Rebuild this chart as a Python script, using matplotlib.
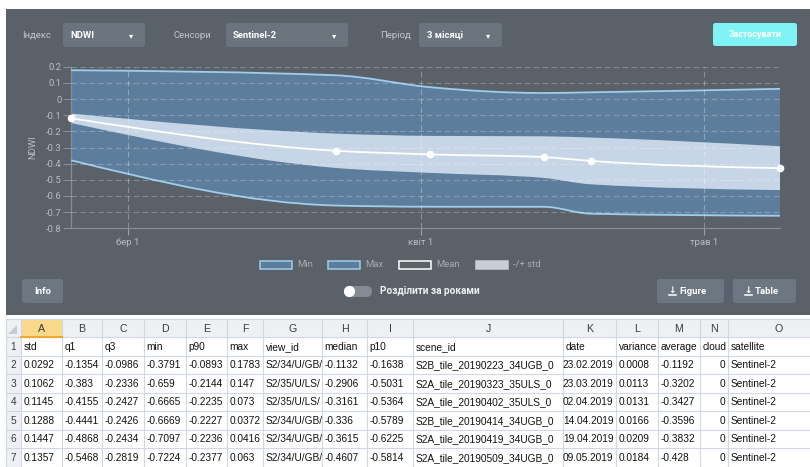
import matplotlib
matplotlib.use("Agg")
import matplotlib.pyplot as plt
import numpy as np
import datetime as dt
import matplotlib.dates as mdates
from matplotlib.patches import Rectangle, FancyBboxPatch, PathPatch, Circle, Polygon
from matplotlib.path import Path

# ---------------- data ----------------
dates = ["23.02.2019", "23.03.2019", "02.04.2019", "14.04.2019", "19.04.2019", "09.05.2019"]
std = [0.0292, 0.1062, 0.1145, 0.1288, 0.1447, 0.1357]
q1 = [-0.1354, -0.383, -0.4155, -0.4441, -0.4868, -0.5468]
q3 = [-0.0986, -0.2336, -0.2427, -0.2426, -0.2434, -0.2819]
mins = [-0.3791, -0.659, -0.6665, -0.6669, -0.7097, -0.7224]
p90 = [-0.0893, -0.2144, -0.2235, -0.2227, -0.2236, -0.2377]
maxs = [0.1783, 0.147, 0.073, 0.0372, 0.0416, 0.063]
view_id = ["S2/34/U/GB/", "S2/35/U/LS/", "S2/35/U/LS/", "S2/34/U/GB/", "S2/34/U/GB/", "S2/34/U/GB/"]
median = [-0.1132, -0.2906, -0.3161, -0.336, -0.3615, -0.4607]
p10 = [-0.1638, -0.5031, -0.5364, -0.5789, -0.6225, -0.5814]
scene_id = ["S2B_tile_20190223_34UGB_0", "S2A_tile_20190323_35ULS_0", "S2A_tile_20190402_35ULS_0",
            "S2B_tile_20190414_34UGB_0", "S2A_tile_20190419_34UGB_0", "S2A_tile_20190509_34UGB_0"]
variance = [0.0008, 0.0113, 0.0131, 0.0166, 0.0209, 0.0184]
average = [-0.1192, -0.3202, -0.3427, -0.3596, -0.3832, -0.428]
cloud = [0, 0, 0, 0, 0, 0]
satellite = ["Sentinel-2"] * 6

y_ticks = [0.2, 0.1, 0, -0.1, -0.2, -0.3, -0.4, -0.5, -0.6, -0.7, -0.8]
y_tick_labels = ["0.2", "0.1", "0", "-0.1", "-0.2", "-0.3", "-0.4", "-0.5", "-0.6", "-0.7", "-0.8"]
month_ticks = ["2019-03-01", "2019-04-01", "2019-05-01"]
month_labels = ["бер 1", "квіт 1", "трав 1"]
legend_labels = ["Min", "Max", "Mean", "-/+ std"]

# ---------------- styles ----------------
W, H = 810, 467
PANEL = "#5b6169"
CTRL = "#6b737c"
BTN = "#6c7782"
BAND = "#5d7d9c"
STDC = "#c7d6e6"
EDGE = "#9fcdec"
TXT = "#b9bdc2"
UI = "Roboto"
TAB = "Liberation Sans"
TFS = 7.25

fig = plt.figure(figsize=(W / 100, H / 100), dpi=100)
fig.patch.set_facecolor("white")
bg = fig.add_axes([0, 0, 1, 1])
bg.set_xlim(0, W)
bg.set_ylim(H, 0)
bg.axis("off")

# panel
bg.add_patch(Rectangle((6, 9), W - 6, 306, facecolor=PANEL, edgecolor="none"))

def rbox(x0, y0, x1, y1, color, r=2.5, z=2):
    bg.add_patch(FancyBboxPatch((x0 + r, y0 + r), x1 - x0 - 2 * r, y1 - y0 - 2 * r,
                                boxstyle=f"round,pad={r}", facecolor=color, edgecolor="none",
                                zorder=z, mutation_aspect=1))

# top controls
bg.text(22, 35, "Індекс", color="#c3c7cb", fontsize=6.8, family=UI, va="center")
rbox(63, 23, 145, 47, CTRL)
bg.text(70, 35, "NDWI", color="white", fontsize=6.8, family=UI, weight="bold", va="center")
bg.text(131, 35.5, "▾", color="white", fontsize=6, family="DejaVu Sans", va="center", ha="center")
bg.text(174, 35, "Сенсори", color="#c3c7cb", fontsize=6.8, family=UI, va="center")
rbox(226, 23, 348, 47, CTRL)
bg.text(233, 35, "Sentinel-2", color="white", fontsize=6.8, family=UI, weight="bold", va="center")
bg.text(334, 35.5, "▾", color="white", fontsize=6, family="DejaVu Sans", va="center", ha="center")
bg.text(380, 35, "Період", color="#c3c7cb", fontsize=6.8, family=UI, va="center")
rbox(419, 23, 502, 47, CTRL)
bg.text(427, 35, "3 місяці", color="white", fontsize=6.8, family=UI, weight="bold", va="center")
bg.text(488, 35.5, "▾", color="white", fontsize=6, family="DejaVu Sans", va="center", ha="center")
rbox(713, 23, 797, 46, "#80f3f6")
bg.text(755, 34.5, "Застосувати", color="white", fontsize=6.5, family=UI, weight="bold",
        va="center", ha="center")

# legend
leg_x = [260, 328, 399, 476]
leg_face = [BAND, BAND, PANEL, "#c9ced4"]
leg_edge = [EDGE, EDGE, "white", "#c9ced4"]
for lx, lab, fc, ec in zip(leg_x, legend_labels, leg_face, leg_edge):
    bg.add_patch(Rectangle((lx, 260.5), 32, 8, facecolor=fc, edgecolor=ec, lw=1.1))
    bg.text(lx + 37, 264.5, lab, color="#a7acb2", fontsize=6.8, family=UI, va="center")

# toggle
bg.add_patch(FancyBboxPatch((344, 286), 28, 11, boxstyle="round,pad=0,rounding_size=5.5",
                            facecolor="#848b93", edgecolor="none", mutation_aspect=1))
bg.add_patch(Circle((349.5, 291.5), 5.6, facecolor="white", edgecolor="none", zorder=3))
bg.text(380, 291.5, "Розділити за роками", color="#eef0f2", fontsize=7.2, family=UI,
        weight="bold", va="center")

# buttons
rbox(22, 279, 63, 303, BTN)
bg.text(42.5, 291, "Info", color="white", fontsize=6.8, family=UI, weight="bold", va="center", ha="center")
for x0, x1, lab in [(657, 724, "Figure"), (733, 796, "Table")]:
    rbox(x0, 279, x1, 303, BTN)
    cx = x0 + 15
    bg.text(cx, 290.3, "↓", color="white", fontsize=6.5, family="DejaVu Sans", weight="bold",
            va="center", ha="center")
    bg.plot([cx - 3.5, cx + 3.5], [294.5, 294.5], color="white", lw=1.1)
    bg.text(cx + 7, 291, lab, color="white", fontsize=6.8, family=UI, weight="bold", va="center")

# ---------------- table ----------------
col_edges = [6, 21, 62, 102, 144, 186, 227, 263, 322, 367, 413, 563, 616, 658, 700, 728, 830]
col_letters = list("ABCDEFGHIJKLMNO")
columns = [("std", std), ("q1", q1), ("q3", q3), ("min", mins), ("p90", p90), ("max", maxs),
           ("view_id", view_id), ("median", median), ("p10", p10), ("scene_id", scene_id),
           ("date", dates), ("variance", variance), ("average", average), ("cloud", cloud),
           ("satellite", satellite)]
right_cols = {"date", "cloud"}
hy0, hy1 = 319, 337
rh = 18.5
n_rows = 7
row_edges = [hy1 + i * rh for i in range(n_rows + 1)]

bg.add_patch(Rectangle((col_edges[0], hy0), W - col_edges[0], hy1 - hy0, facecolor="#eef0f3",
                       edgecolor="none", zorder=1))
bg.add_patch(Rectangle((col_edges[0], hy1), col_edges[1] - col_edges[0], H - hy1,
                       facecolor="#eef0f3", edgecolor="none", zorder=1))
bg.add_patch(Rectangle((col_edges[1], hy0), col_edges[2] - col_edges[1], hy1 - hy0,
                       facecolor="#f9d98a", edgecolor="none", zorder=1.5))
bg.plot([col_edges[1], col_edges[2]], [hy1 - 0.5, hy1 - 0.5], color="#f0a830", lw=1.5, zorder=3)
bg.add_patch(Polygon([[17, 334], [17, 325], [8, 334]], closed=True, facecolor="#c8ccd2",
                     edgecolor="none", zorder=2))
for x in col_edges:
    bg.plot([x, x], [hy0, H], color="#d0d7e5", lw=0.8, zorder=1.6)
for y in [hy0] + row_edges:
    bg.plot([col_edges[0], W], [y, y], color="#d0d7e5", lw=0.8, zorder=1.6)
for i, L in enumerate(col_letters):
    cx = (col_edges[i + 1] + col_edges[i + 2]) / 2
    if cx > W:
        cx = (col_edges[i + 1] + W) / 2 + 12
    bg.text(cx, (hy0 + hy1) / 2 + 0.5, L, color="#3c3c3c", fontsize=TFS + 0.4, family=TAB,
            ha="center", va="center", zorder=4)
for r in range(n_rows):
    cy = row_edges[r] + rh / 2 + 0.5
    bg.text(13.5, cy, str(r + 1), color="#3c3c3c", fontsize=TFS, family=TAB, ha="center",
            va="center", zorder=4)
    for c, (name, vals) in enumerate(columns):
        x0, x1 = col_edges[c + 1], col_edges[c + 2]
        s = name if r == 0 else str(vals[r - 1])
        if name in right_cols and r > 0:
            bg.text(x1 - 2.5, cy, s, color="#111111", fontsize=TFS, family=TAB, ha="right",
                    va="center", zorder=4)
        else:
            t = bg.text(x0 + 2.5, cy, s, color="#111111", fontsize=TFS, family=TAB, ha="left",
                        va="center", zorder=4)
            clip = Rectangle((x0, row_edges[r]), x1 - x0, rh, transform=bg.transData)
            t.set_clip_path(clip)

# ---------------- chart ----------------
xd = mdates.date2num([dt.datetime.strptime(d, "%d.%m.%Y") for d in dates])
x0p, x1p, ytop, ybot = 71, 780, 66.7, 228.3
ax = fig.add_axes([x0p / W, 1 - ybot / H, (x1p - x0p) / W, (ybot - ytop) / H])
ax.set_facecolor("none")
ax.set_xlim(xd[0], xd[-1])
ax.set_ylim(-0.8, 0.2)


def mono_verts(x, y):
    x = np.asarray(x, float)
    y = np.asarray(y, float)
    n = len(x)
    h = np.diff(x)
    s = np.diff(y) / h
    t = np.zeros(n)
    sg = lambda v: -1.0 if v < 0 else 1.0
    for i in range(1, n - 1):
        p = (s[i - 1] * h[i] + s[i] * h[i - 1]) / (h[i - 1] + h[i])
        t[i] = (sg(s[i - 1]) + sg(s[i])) * min(abs(s[i - 1]), abs(s[i]), 0.5 * abs(p))
    t[0] = (3 * s[0] - t[1]) / 2
    t[-1] = (3 * s[-1] - t[-2]) / 2
    v = [(x[0], y[0])]
    for i in range(n - 1):
        d = h[i] / 3
        v += [(x[i] + d, y[i] + d * t[i]), (x[i + 1] - d, y[i + 1] - d * t[i + 1]), (x[i + 1], y[i + 1])]
    return v


def curve_path(x, y):
    v = mono_verts(x, y)
    return Path(v, [Path.MOVETO] + [Path.CURVE4] * (len(v) - 1))


def band_path(x, ylo, yhi):
    up = mono_verts(x, yhi)
    lo = mono_verts(x, ylo)[::-1]
    v = up + lo + [up[0]]
    codes = ([Path.MOVETO] + [Path.CURVE4] * (len(up) - 1) + [Path.LINETO] +
             [Path.CURVE4] * (len(lo) - 1) + [Path.CLOSEPOLY])
    return Path(v, codes)


avg = np.array(average)
sd = np.array(std)
ax.add_patch(PathPatch(band_path(xd, mins, maxs), facecolor=BAND, edgecolor="none", zorder=1))
ax.add_patch(PathPatch(band_path(xd, avg - sd, avg + sd), facecolor=STDC, edgecolor="none", zorder=2))
ax.add_patch(PathPatch(curve_path(xd, maxs), facecolor="none", edgecolor=EDGE, lw=1.3, zorder=3))
ax.add_patch(PathPatch(curve_path(xd, mins), facecolor="none", edgecolor=EDGE, lw=1.3, zorder=3))
ax.add_patch(PathPatch(curve_path(xd, average), facecolor="none", edgecolor="white", lw=1.3, zorder=4))
ax.plot(xd, average, linestyle="none", marker="o", ms=4.5, color="white", zorder=5, clip_on=False)

for yv in y_ticks[:-1]:
    ax.axhline(yv, color="white", alpha=0.25, lw=0.8, dashes=(5, 3), zorder=3.5)
mt = mdates.date2num([dt.datetime.strptime(m, "%Y-%m-%d") for m in month_ticks])
for m in mt:
    ax.axvline(m, color="white", alpha=0.3, lw=0.8, dashes=(5, 3), zorder=3.5)

ax.set_yticks(y_ticks)
ax.set_yticklabels(y_tick_labels)
ax.set_xticks(mt)
ax.set_xticklabels(month_labels)
for sp in ["top", "right"]:
    ax.spines[sp].set_visible(False)
for sp in ["left", "bottom"]:
    ax.spines[sp].set_color("#868d95")
    ax.spines[sp].set_linewidth(0.9)
ax.tick_params(axis="y", length=6, width=0.8, color="#868d95", pad=1, labelsize=6.8, labelcolor=TXT)
ax.tick_params(axis="x", length=5, width=0.8, color="#9aa0a7", pad=2, labelsize=6.8, labelcolor=TXT)
for lab in ax.get_xticklabels() + ax.get_yticklabels():
    lab.set_family(UI)
ax.set_ylabel("NDWI", color=TXT, fontsize=6.8, family=UI, labelpad=6)

fig.savefig("out.png", dpi=100, facecolor="white")
